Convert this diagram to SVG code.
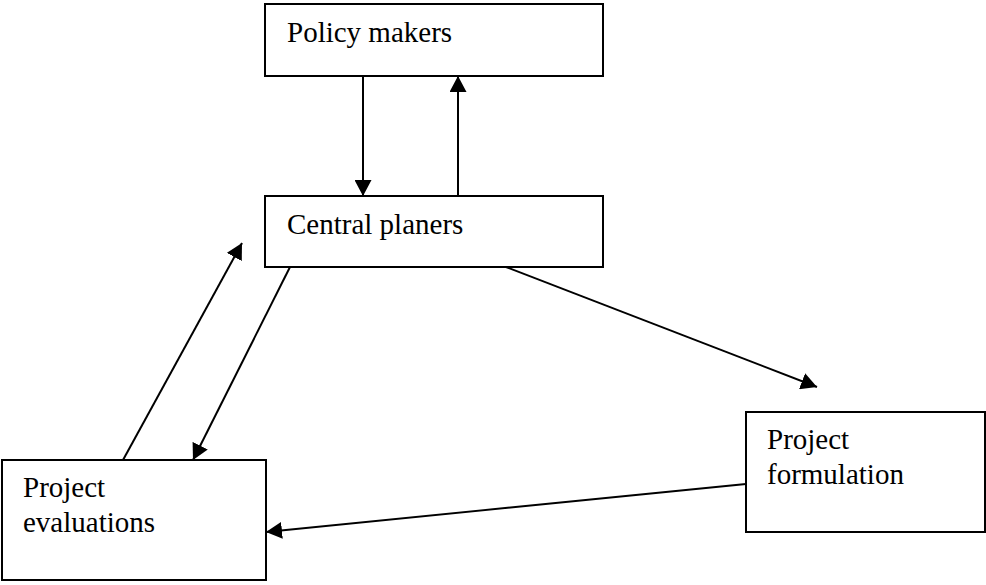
<svg xmlns="http://www.w3.org/2000/svg" width="986" height="585" viewBox="0 0 986 585">
<style>
.box{fill:#fff;stroke:#000;stroke-width:2}
.lbl{font-family:"Liberation Serif","Times New Roman",serif;font-size:29px;fill:#000}
.conn{stroke:#000;stroke-width:2;fill:none;marker-end:url(#ah)}
</style>
<defs>
<marker id="ah" markerUnits="userSpaceOnUse" markerWidth="16" markerHeight="17" refX="16" refY="8.5" orient="auto" viewBox="0 0 16 17">
<path d="M0,0 L16,8.5 L0,17 z" fill="#000"/>
</marker>
</defs>
<rect width="986" height="585" fill="#fff"/>
<g id="policy-makers">
<rect class="box" x="265" y="4" width="338" height="72"/>
<text class="lbl" x="287" y="42">Policy makers</text>
</g>
<g id="central-planers">
<rect class="box" x="265" y="196" width="338" height="71"/>
<text class="lbl" x="287" y="234">Central planers</text>
</g>
<g id="project-evaluations">
<rect class="box" x="2" y="460" width="264" height="120"/>
<text class="lbl" x="23" y="497">Project</text>
<text class="lbl" x="23" y="532">evaluations</text>
</g>
<g id="project-formulation">
<rect class="box" x="746" y="412" width="239" height="120"/>
<text class="lbl" x="767" y="449">Project</text>
<text class="lbl" x="767" y="484">formulation</text>
</g>
<g id="connectors">
<line class="conn" x1="363" y1="76" x2="363" y2="196"/>
<line class="conn" x1="458" y1="196" x2="458" y2="76"/>
<line class="conn" x1="506" y1="267" x2="817" y2="387"/>
<line class="conn" x1="290" y1="267" x2="193" y2="460"/>
<line class="conn" x1="123" y1="460" x2="242" y2="243"/>
<line class="conn" x1="746" y1="484" x2="266" y2="532"/>
</g>
</svg>
